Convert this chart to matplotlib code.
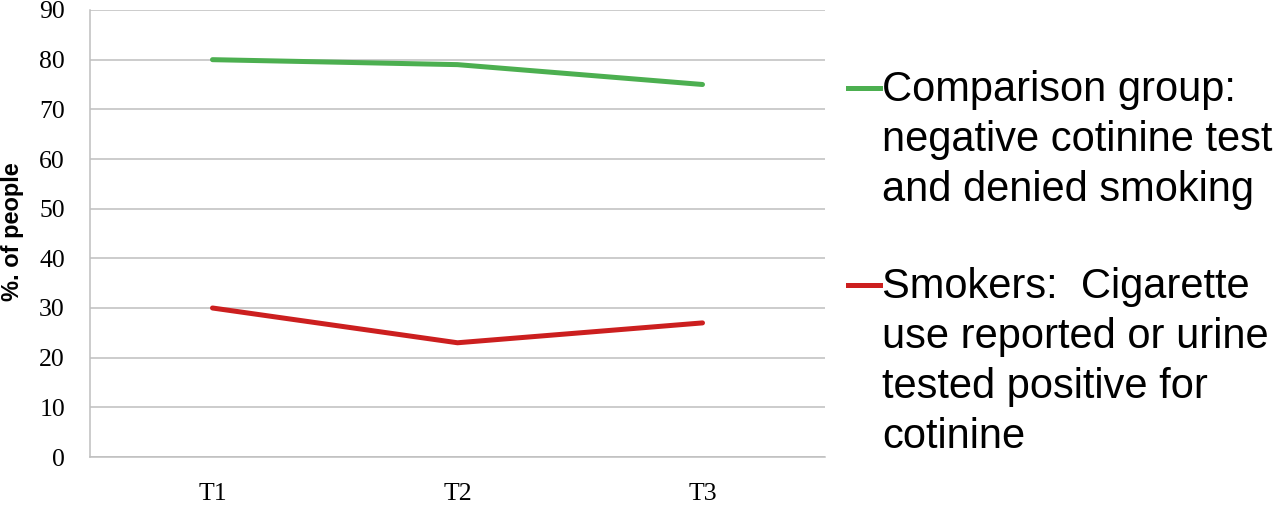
import matplotlib
matplotlib.use('Agg')
import matplotlib.pyplot as plt
from matplotlib.lines import Line2D

# data
periods = ['T1', 'T2', 'T3']
comparison = [80, 79, 75]
smokers = [30, 23, 27]

comparison_label = 'Comparison group:\nnegative cotinine test\nand denied smoking'
smokers_label = 'Smokers:  Cigarette\nuse reported or urine\ntested positive for\ncotinine'

green = '#4CAF50'
red = '#CC1F1F'
grid_gray = '#BFBFBF'

fig = plt.figure(figsize=(12.8, 5.05), dpi=100)
ax = fig.add_axes([90 / 1280, 1 - 457 / 505, 735 / 1280, 447 / 505])

x = range(len(periods))
ax.plot(x, comparison, color=green, linewidth=3.6, solid_capstyle='round')
ax.plot(x, smokers, color=red, linewidth=3.6, solid_capstyle='round')

ax.set_xlim(-0.5, 2.5)
ax.set_ylim(0, 90)
ax.set_yticks(range(0, 91, 10))
ax.set_xticks(list(x))
ax.set_xticklabels(periods)

# grid and spines
ax.grid(axis='y', color=grid_gray, linewidth=1.1)
ax.set_axisbelow(True)
for side in ['top', 'right']:
    ax.spines[side].set_visible(False)
for side in ['left', 'bottom']:
    ax.spines[side].set_color(grid_gray)
    ax.spines[side].set_linewidth(1.1)

ax.tick_params(axis='both', length=0, labelsize=18.5, labelfontfamily='Liberation Serif')
ax.tick_params(axis='y', pad=18)
ax.tick_params(axis='x', pad=19)

fig.text(13 / 1280, 1 - 232 / 505, '%. of people', rotation=90, fontsize=17,
         fontweight='bold', family='Liberation Sans', ha='center', va='center')

# legend drawn by hand so the handle sits on the first text line
entries = [(green, comparison_label, 88), (red, smokers_label, 285)]
for color, label, ypix in entries:
    yf = 1 - ypix / 505
    fig.add_artist(Line2D([848 / 1280, 880 / 1280], [yf, yf], color=color,
                          linewidth=3.6, transform=fig.transFigure))
    fig.text(882 / 1280, yf + 18 / 505, label, fontsize=30, family='Liberation Sans',
             ha='left', va='top', linespacing=1.32)

fig.savefig('out.png', dpi=100, facecolor='white')
